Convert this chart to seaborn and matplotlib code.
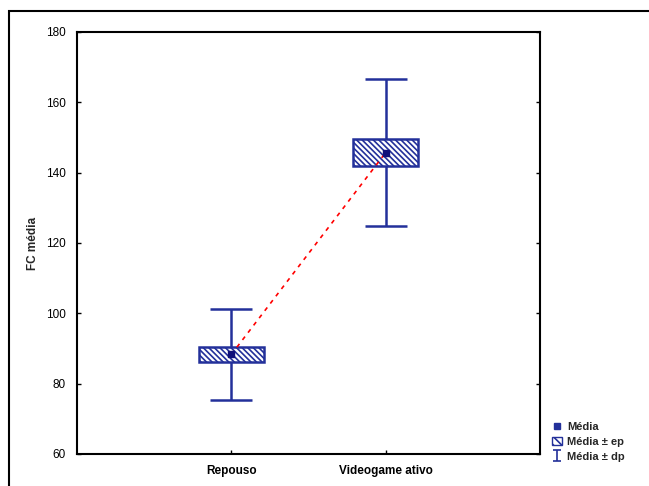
import numpy as np
import pandas as pd
import matplotlib
matplotlib.use('Agg')
import matplotlib.pyplot as plt
import seaborn as sns
from matplotlib.patches import Patch, Rectangle
from matplotlib.lines import Line2D

# Values
groups = ['Repouso', 'Videogame ativo']
media = [88.3, 145.7]
ep = [2.2, 3.8]
dp = [13.0, 21.0]

sns.set_style('white')
plt.rcParams['font.family'] = ['Liberation Sans', 'DejaVu Sans']
plt.rcParams['hatch.color'] = '#23309a'
plt.rcParams['hatch.linewidth'] = 1.2

df = pd.DataFrame({'grupo': groups, 'media': media, 'ep': ep, 'dp': dp})
blue = '#23309a'

fig = plt.figure(figsize=(6.49, 4.86), dpi=100)
ax = fig.add_axes([77/649, 1 - 454/486, (540-77)/649, (454-32)/486])

# outer frame
fig.patches.append(Rectangle((9/649, -0.1), 1.1, 1 - 11/486 + 0.1, transform=fig.transFigure,
                             fill=False, edgecolor='black', linewidth=1.5, clip_on=False))

# dashed red line between means
sns.pointplot(data=df, x='grupo', y='media', ax=ax, color='red', markers='',
              linestyles='--', linewidth=1.2, errorbar=None, zorder=4)
ax.lines[0].set_dashes((2.5, 3))

x = np.arange(len(groups))
# whiskers (mean +- dp)
ax.errorbar(x, df['media'], yerr=df['dp'], fmt='none', ecolor=blue, elinewidth=1.8,
            capsize=15, capthick=1.8, zorder=2)
# boxes (mean +- ep)
ax.bar(x, 2 * df['ep'], bottom=df['media'] - df['ep'], width=0.42, color='white',
       edgecolor=blue, linewidth=1.8, hatch='\\' * 6, zorder=3)
# mean markers
ax.scatter(x, df['media'], marker='s', s=16, color='#10107a', zorder=5)

ax.set_xlim(-1, 2)
ax.set_ylim(60, 180)
ax.set_yticks(np.arange(60, 181, 20))
ax.set_xticks(x)
ax.set_xticklabels(groups, fontsize=8.5, fontweight='bold')
for lab in ax.get_yticklabels():
    lab.set_fontsize(8.5)
ax.set_xlabel('')
ax.set_ylabel('FC média', fontsize=8.5, fontweight='bold', labelpad=5)
ax.tick_params(axis='both', direction='in', length=3, width=1, left=True, right=True,
               bottom=True, top=False, pad=8, colors='black')
for s in ax.spines.values():
    s.set_visible(True)
    s.set_color('black')
    s.set_linewidth(1.5)

# legend
h_mean = Line2D([], [], marker='s', color=blue, linestyle='none', markersize=4)
h_ep = Patch(facecolor='white', edgecolor=blue, hatch='\\' * 4)
h_dp = ax.errorbar([0], [-100], yerr=[1], fmt='none', ecolor=blue, capsize=3,
                   elinewidth=1.2, capthick=1.2)
fig.legend([h_mean, h_ep, h_dp], ['Média', 'Média ± ep', 'Média ± dp'],
           loc='upper left', bbox_to_anchor=(544/649, 1 - 414/486), frameon=False,
           handlelength=0.9, handletextpad=0.5, labelspacing=0.45,
           borderpad=0.2, prop={'weight': 'bold', 'size': 8})

fig.savefig('out.png', dpi=100)
